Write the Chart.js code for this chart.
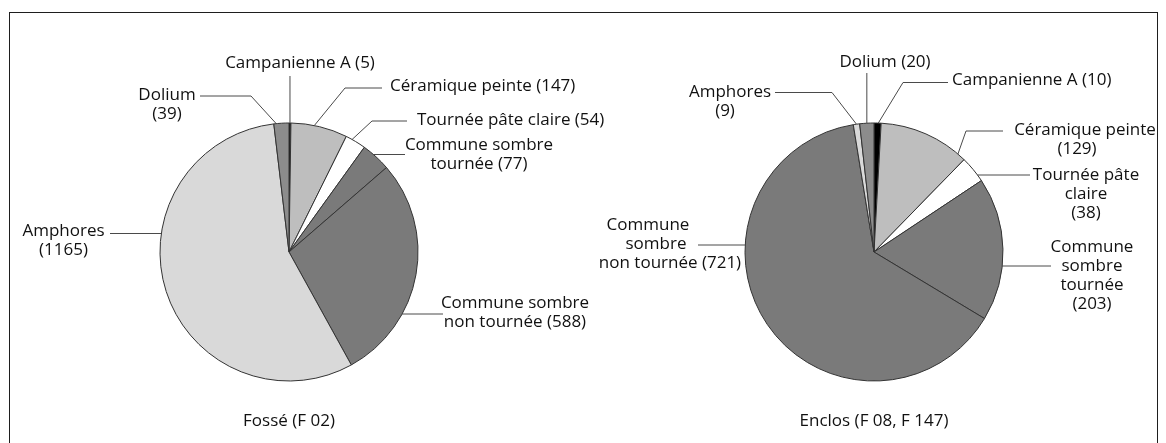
<!DOCTYPE html>
<html>
<head>
<meta charset="utf-8">
<script src="https://cdn.jsdelivr.net/npm/chart.js@4.4.1/dist/chart.umd.min.js"></script>
<style>
  html, body { margin: 0; padding: 0; background: #fff; }
  #wrap { position: relative; width: 1166px; height: 443px; overflow: hidden; background: #fff; }
  .pie { position: absolute; left: 0; top: 0; width: 1166px; height: 443px; }
  #frame { position: absolute; left: 9px; top: 12px; width: 1149px; height: 445px;
           border: 1px solid #1e1e1e; box-sizing: border-box; pointer-events: none; }
</style>
</head>
<body>
<div id="wrap">
  <div class="pie"><canvas id="fosse"></canvas></div>
  <div class="pie"><canvas id="enclos"></canvas></div>
  <div id="frame"></div>
</div>
<script>
// Data
const categories = ['Campanienne A', 'Céramique peinte', 'Tournée pâte claire',
  'Commune sombre tournée', 'Commune sombre non tournée', 'Amphores', 'Dolium'];
const fosseValues = [5, 147, 54, 77, 588, 1165, 39];
const enclosValues = [10, 129, 38, 203, 721, 9, 20];
const sliceColors = ['#000000', '#bebebe', '#ffffff', '#7a7a7a', '#7a7a7a', '#d9d9d9', '#8c8c8c'];

const FONT = '17px "Open Sans", sans-serif',
  LINE_H = 19,
  TITLE_Y = 421;

// callout placement for each slice, page coords ({v} = slice value)
const fosseCallouts = [
  {lines: ['Campanienne A ({v})'], x: 300, y: 63.5, vertical: 76},
  {lines: ['Céramique peinte ({v})'], x: 390, y: 86.5, align: 'left', lineY: 88, lineX: 382, elbowX: 345, at: 0.41},
  {lines: ['Tournée pâte claire ({v})'], x: 417, y: 120, align: 'left', lineY: 121, lineX: 407, elbowX: 372, at: 0.31},
  {lines: ['Commune sombre', 'tournée ({v})'], x: 479, y: 145, lineY: 154.5, lineX: 405},
  {lines: ['Commune sombre', 'non tournée ({v})'], x: 515, y: 303.5, lineY: 314, lineX: 443},
  {lines: ['Amphores', '({v})'], x: 63.5, y: 231.5, lineY: 233.5, lineX: 110},
  {lines: ['Dolium', '({v})'], x: 167, y: 95, lineY: 96, lineX: 200, elbowX: 251, at: 0.16}
];
const enclosCallouts = [
  {lines: ['Campanienne A ({v})'], x: 952, y: 80, align: 'left', lineY: 82.5, lineX: 948, elbowX: 903, at: 0.6},
  {lines: ['Céramique peinte', '({v})'], dx: [0, -8], x: 1085, y: 130, lineY: 131, lineX: 1003, elbowX: 966, at: 0.91},
  {lines: ['Tournée pâte', 'claire', '({v})'], x: 1086, y: 175, lineY: 175, lineX: 1030},
  {lines: ['Commune', 'sombre', 'tournée', '({v})'], x: 1092, y: 247, lineY: 266, lineX: 1051},
  {lines: ['Commune', 'sombre', 'non tournée ({v})'], dx: [-22, -14, 0], x: 670, y: 225, lineY: 245, lineX: 698},
  {lines: ['Amphores', '({v})'], dx: [0, -5], x: 730, y: 92, lineY: 92.5, lineX: 775, elbowX: 832, at: 0.5},
  {lines: ['Dolium ({v})'], x: 885, y: 62, vertical: 73}
];

// Draws leader lines, labels and the caption under each pie
const calloutPlugin = function(callouts, title){
  return {
    id: 'callouts',
    afterDraw: function(chart){
      const ctx = chart.ctx;
      const arcs = chart.getDatasetMeta(0).data;
      const values = chart.data.datasets[0].data;
      ctx.save();
      ctx.font = FONT;
      ctx.fillStyle = '#111111';
      ctx.strokeStyle = '#4a4a4a';
      ctx.lineWidth = 1;
      ctx.textBaseline = 'middle';

      callouts.forEach(function(c, i){
        const p = arcs[i].getProps(['x', 'y', 'startAngle', 'endAngle', 'outerRadius'], true);
        const R = p.outerRadius;
        ctx.beginPath();
        if(c.vertical !== undefined){
          const ang = (p.startAngle + p.endAngle) / 2;
          const ex = p.x + R * Math.cos(ang), ey = p.y + R * Math.sin(ang);
          ctx.moveTo(ex, ey);
          ctx.lineTo(ex, c.vertical);
        } else if(c.elbowX !== undefined){
          const ang = p.startAngle + c.at * (p.endAngle - p.startAngle);
          ctx.moveTo(p.x + R * Math.cos(ang), p.y + R * Math.sin(ang));
          ctx.lineTo(c.elbowX, c.lineY);
          ctx.lineTo(c.lineX, c.lineY);
        } else {
          const dy = c.lineY - p.y;
          const dx = Math.sqrt(Math.max(R * R - dy * dy, 0));
          ctx.moveTo(c.lineX < p.x ? p.x - dx : p.x + dx, c.lineY);
          ctx.lineTo(c.lineX, c.lineY);
        }
        ctx.stroke();

        ctx.textAlign = c.align || 'center';
        c.lines.forEach(function(t, k){
          const off = c.dx ? c.dx[k] : 0;
          ctx.fillText(t.replace('{v}', values[i]), c.x + off, c.y + k * LINE_H);
        });
      });

      ctx.textAlign = 'center';
      ctx.fillText(title, arcs[0].x, TITLE_Y);
      ctx.restore();
    }
  };
};

const makePie = function(id, values, callouts, title, padding){
  return new Chart(document.getElementById(id), {
    type: 'pie',
    data: {
      labels: categories,
      datasets: [{
        data: values,
        backgroundColor: sliceColors,
        borderColor: '#333333',
        borderWidth: 1,
        radius: 129
      }]
    },
    options: {
      responsive: true,
      maintainAspectRatio: false,
      animation: false,
      events: [],
      layout: {padding: padding},
      plugins: {
        legend: {display: false},
        tooltip: {enabled: false}
      }
    },
    plugins: [calloutPlugin(callouts, title)]
  });
};

makePie('fosse', fosseValues, fosseCallouts, 'Fossé (F 02)',
  {left: 159.5, right: 747.5, top: 122.5, bottom: 61.5});
makePie('enclos', enclosValues, enclosCallouts, 'Enclos (F 08, F 147)',
  {left: 744.5, right: 162.5, top: 122.5, bottom: 61.5});
</script>
</body>
</html>
